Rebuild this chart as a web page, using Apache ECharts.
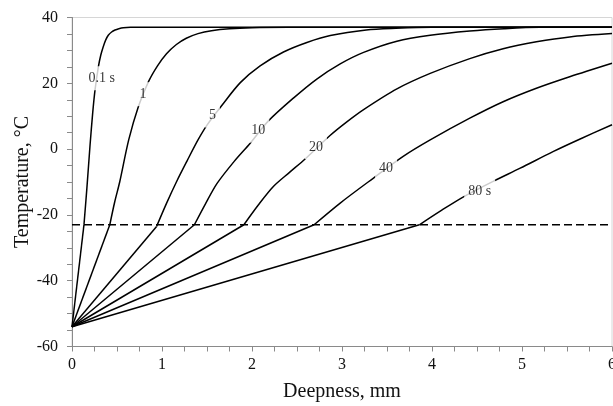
<!DOCTYPE html>
<html>
<head>
<meta charset="utf-8">
<script src="https://cdn.jsdelivr.net/npm/echarts@6/dist/echarts.min.js"></script>
<style>html,body{margin:0;padding:0;background:#fff}#c{width:613px;height:406px}</style>
</head>
<body>
<div id="c"></div>
<script>
// Temperature profiles (depth mm, temperature °C) at different times
const curve01 = [[0,-54],[0.133,-23],[0.165,-12],[0.2,1],[0.23,11],[0.256,18],[0.293,25],[0.32,28.6],[0.348,31.2],[0.375,33.2],[0.403,34.6],[0.44,35.6],[0.478,36.2],[0.52,36.6],[0.57,36.9],[0.65,37],[6,37]];
const curve1 = [[0,-54],[0.42,-23],[0.475,-16],[0.53,-10],[0.63,2.8],[0.737,12.9],[0.85,20.5],[0.95,25.3],[1.05,29],[1.16,31.8],[1.27,33.7],[1.4,35.1],[1.55,36],[1.75,36.6],[2.0,36.9],[2.4,37],[6,37]];
const curve5 = [[0,-54],[0.94,-23.5],[1.05,-16.5],[1.16,-10],[1.28,-3.5],[1.40,2.8],[1.5,7.3],[1.66,13.1],[1.87,20.2],[2.09,25.3],[2.35,29.5],[2.61,32.4],[2.87,34.5],[3.27,36.2],[3.6,36.7],[4.0,37],[6,37]];
const curve10 = [[0,-54],[1.36,-23],[1.48,-16.8],[1.61,-10.5],[1.8,-3.8],[1.98,1.8],[2.18,8.5],[2.46,15.5],[2.72,21.3],[2.98,25.9],[3.24,29.4],[3.61,32.8],[3.98,34.6],[4.42,35.9],[4.8,36.6],[5.2,37],[6,37]];
const curve20 = [[0,-54],[1.91,-23],[2.07,-17],[2.24,-11.3],[2.42,-7],[2.59,-3],[2.87,4.2],[3.05,8.2],[3.24,12],[3.61,18.3],[3.98,23],[4.42,27.5],[4.79,30.5],[5.16,32.6],[5.53,34.1],[6,35.1]];
const curve40 = [[0,-54],[2.69,-23],[2.98,-16.4],[3.35,-8.8],[3.68,-2.2],[3.98,2.8],[4.42,9.4],[4.79,14.4],[5.16,18.5],[5.53,22],[6,26.1]];
const curve80 = [[0,-54],[3.86,-23],[4.1,-18.7],[4.35,-14.5],[4.68,-9.8],[4.98,-5.8],[5.35,-0.7],[5.64,3],[6,7.4]];
const freezeLine = [[0,-23],[6,-23]];
const curveLabels = ['0.1 s','1','5','10','20','40','80 s'];
const labelPos = [[0.33,21.5],[0.79,16.7],[1.56,10.2],[2.07,5.6],[2.71,0.6],[3.49,-5.8],[4.53,-12.8]];

const curves = [curve01, curve1, curve5, curve10, curve20, curve40, curve80];
const serif = 'Liberation Serif';
const chart = echarts.init(document.getElementById('c'), null, {renderer:'canvas'});
const series = [];
curves.forEach(function(d){
  // frozen zone: straight segment; thawed zone: smooth curve
  series.push({type:'line', data:d.slice(0,2), showSymbol:false, smooth:false,
    lineStyle:{color:'#000', width:1.5}, z:2, silent:true});
  series.push({type:'line', data:d.slice(1), showSymbol:false, smooth:0.3,
    lineStyle:{color:'#000', width:1.5}, z:2, silent:true});
});
series.push({type:'line', data:freezeLine, showSymbol:false,
  lineStyle:{color:'#000', width:1.5, type:[8,4]}, z:2, silent:true});
series.push({type:'scatter', symbolSize:0, z:5, silent:true,
  data: labelPos.map(function(p,i){return {value:p, name:curveLabels[i]};}),
  label:{show:true, position:'inside', formatter:'{b}', color:'#000',
    fontFamily:serif, fontSize:14, backgroundColor:'#fff', padding:[5,4]}});

chart.setOption({
  animation:false,
  backgroundColor:'#fff',
  grid:{left:72, right:1, top:17.5, bottom:59.5, show:true, borderColor:'#d6d6d6', borderWidth:1,
    containLabel:false, outerBoundsMode:'none'},
  xAxis:{type:'value', min:0, max:6, interval:1,
    name:'Deepness, mm', nameLocation:'middle', nameGap:35, nameMoveOverlap:false,
    nameTextStyle:{fontFamily:serif, fontSize:20, color:'#111'},
    axisLine:{show:true, onZero:false, lineStyle:{color:'#8a8a8a', width:1}},
    axisTick:{show:true, length:5, lineStyle:{color:'#8a8a8a'}},
    minorTick:{show:true, splitNumber:4, length:5, lineStyle:{color:'#8a8a8a'}},
    splitLine:{show:false},
    axisLabel:{fontFamily:serif, fontSize:16, color:'#111', margin:10}},
  yAxis:{type:'value', min:-60, max:40, interval:20,
    name:'Temperature, °C', nameLocation:'middle', nameGap:39, nameMoveOverlap:false,
    nameTextStyle:{fontFamily:serif, fontSize:20, color:'#111'},
    axisLine:{show:true, onZero:false, lineStyle:{color:'#8a8a8a', width:1}},
    axisTick:{show:true, length:5, lineStyle:{color:'#8a8a8a'}},
    minorTick:{show:true, splitNumber:4, length:5, lineStyle:{color:'#8a8a8a'}},
    splitLine:{show:false},
    axisLabel:{fontFamily:serif, fontSize:16, color:'#111', margin:14}},
  series:series
});
</script>
</body>
</html>
